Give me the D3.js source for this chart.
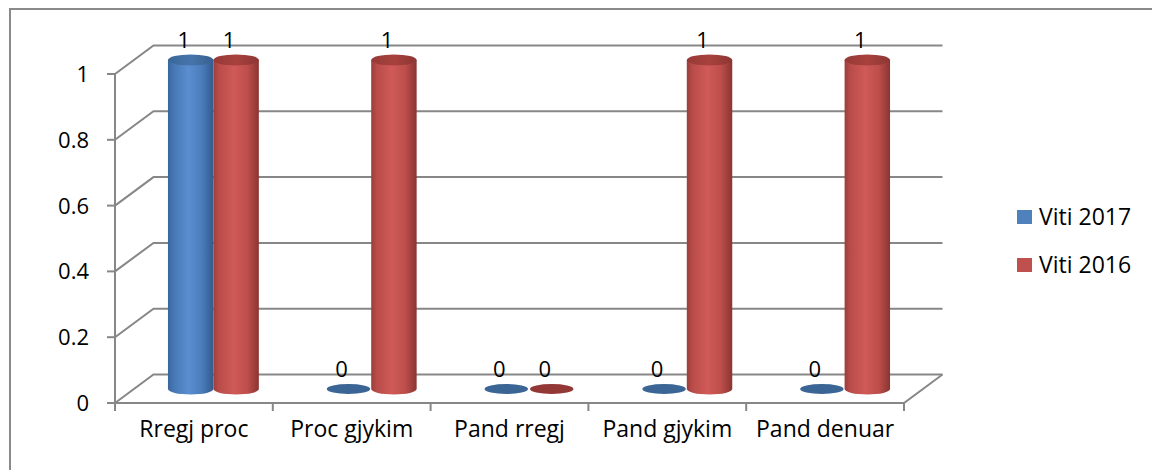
<!DOCTYPE html>
<html><head><meta charset="utf-8">
<script src="https://cdn.jsdelivr.net/npm/d3@7"></script>
<style>body{margin:0;background:#fff}svg{display:block}text{font-family:"Open Sans",sans-serif;fill:#000}</style>
</head><body><svg id="c" width="1152" height="470"></svg>
<script>
const categories = ["Rregj proc","Proc gjykim","Pand rregj","Pand gjykim","Pand denuar"];
const series = ["Viti 2017","Viti 2016"];
const values2017 = [1,0,0,0,0];
const values2016 = [1,1,0,1,1];
const yTicks = [0,0.2,0.4,0.6,0.8,1];
const yTickLabels = ["0","0.2","0.4","0.6","0.8","1"];

const svg = d3.select("#c");
const fx0=115, fx1=904, fy0=403, fy1=74;
const dX=38.5, dY=-28.5;     // back wall offset
const mX=19.5, mY=-14;       // cylinder depth offset
const gray="#878787";

svg.append("rect").attr("x",10).attr("y",9).attr("width",1200).attr("height",500)
  .attr("fill","none").attr("stroke","#8a8a8a").attr("stroke-width",2);

const x = d3.scaleBand().domain(categories).range([fx0,fx1]);
const x1 = d3.scaleBand().domain(series).range([x.bandwidth()*0.212, x.bandwidth()*0.788]);
const y = d3.scaleLinear().domain([0,1]).range([fy0,fy1]);

const defs=svg.append("defs");
function grad(id,stops){
  const g=defs.append("linearGradient").attr("id",id).attr("x1","0%").attr("x2","100%").attr("y1","0%").attr("y2","0%");
  stops.forEach(s=>g.append("stop").attr("offset",s[0]).attr("stop-color",s[1]));
}
grad("gb",[["0%","#3a669d"],["12%","#4677b4"],["45%","#5a8ed0"],["75%","#4a7cba"],["100%","#345a8c"]]);
grad("gr",[["0%","#9c3d3a"],["12%","#b84c49"],["45%","#d05a57"],["75%","#bd4e4b"],["100%","#8a3532"]]);
grad("tb",[["0%","#3a6698"],["50%","#4775ab"],["100%","#36608f"]]);
grad("tr",[["0%","#963a37"],["50%","#a8413e"],["100%","#8d3633"]]);
const sideFill={"Viti 2017":"url(#gb)","Viti 2016":"url(#gr)"};
const topFill={"Viti 2017":"url(#tb)","Viti 2016":"url(#tr)"};
const flatFill={"Viti 2017":"#3b6594","Viti 2016":"#933835"};
const legendFill={"Viti 2017":"#4f81bd","Viti 2016":"#c0504d"};

const grid=svg.append("g").attr("fill","none").attr("stroke",gray).attr("stroke-width",2);
yTicks.forEach(t=>{
  const yy=y(t);
  grid.append("path").attr("d",`M${fx0},${yy}L${fx0+dX},${yy+dY}L${fx1+dX},${yy+dY}`);
  grid.append("line").attr("x1",fx0-8).attr("x2",fx0).attr("y1",yy).attr("y2",yy);
});
grid.append("line").attr("x1",fx0).attr("x2",fx0).attr("y1",y(1)).attr("y2",fy0+1);
grid.append("path").attr("d",`M${fx0},${fy0}L${fx1},${fy0}L${fx1+dX},${fy0+dY}`);
categories.concat([null]).forEach(c=>{
  const xx = c? x(c) : fx1;
  grid.append("line").attr("x1",xx).attr("x2",xx).attr("y1",fy0).attr("y2",fy0+8);
});

svg.append("g").selectAll("text").data(yTicks).join("text")
  .attr("x",89).attr("y",d=>y(d)).attr("dy","0.36em").attr("text-anchor","end")
  .attr("font-size",22).text((d,i)=>yTickLabels[i]);
svg.append("g").selectAll("text").data(categories).join("text")
  .attr("x",d=>x(d)+x.bandwidth()/2).attr("y",437).attr("text-anchor","middle")
  .attr("font-size",23).text(d=>d);

const data=[];
categories.forEach((c,i)=>{
  data.push({c,s:"Viti 2017",v:values2017[i]});
  data.push({c,s:"Viti 2016",v:values2016[i]});
});
const rx=x1.bandwidth()/2, ry=5.5;
const cyl=svg.append("g");
data.forEach(d=>{
  const cx=x(d.c)+x1(d.s)+rx+mX;
  const yb=y(0)+mY, yt=y(d.v)+mY;
  if(d.v>0){
    cyl.append("path").attr("d",`M${cx-rx},${yt}L${cx-rx},${yb}A${rx},${ry} 0 0 0 ${cx+rx},${yb}L${cx+rx},${yt}Z`)
      .attr("fill",sideFill[d.s]);
    cyl.append("ellipse").attr("cx",cx).attr("cy",yt).attr("rx",rx).attr("ry",ry).attr("fill",topFill[d.s]);
  } else {
    cyl.append("ellipse").attr("cx",cx).attr("cy",yb).attr("rx",rx-1).attr("ry",ry-0.5).attr("fill",flatFill[d.s]);
  }
  svg.append("text").attr("x",cx-7).attr("y",yt-12).attr("text-anchor","middle")
    .attr("font-size",22).text(d.v);
});

const lg=svg.append("g");
series.forEach((s,i)=>{
  const yy=210+i*48;
  lg.append("rect").attr("x",1017).attr("y",yy).attr("width",15).attr("height",14).attr("fill",legendFill[s]);
  lg.append("text").attr("x",1039).attr("y",yy+7).attr("dy","0.36em").attr("font-size",23).text(s);
});
</script></body></html>
